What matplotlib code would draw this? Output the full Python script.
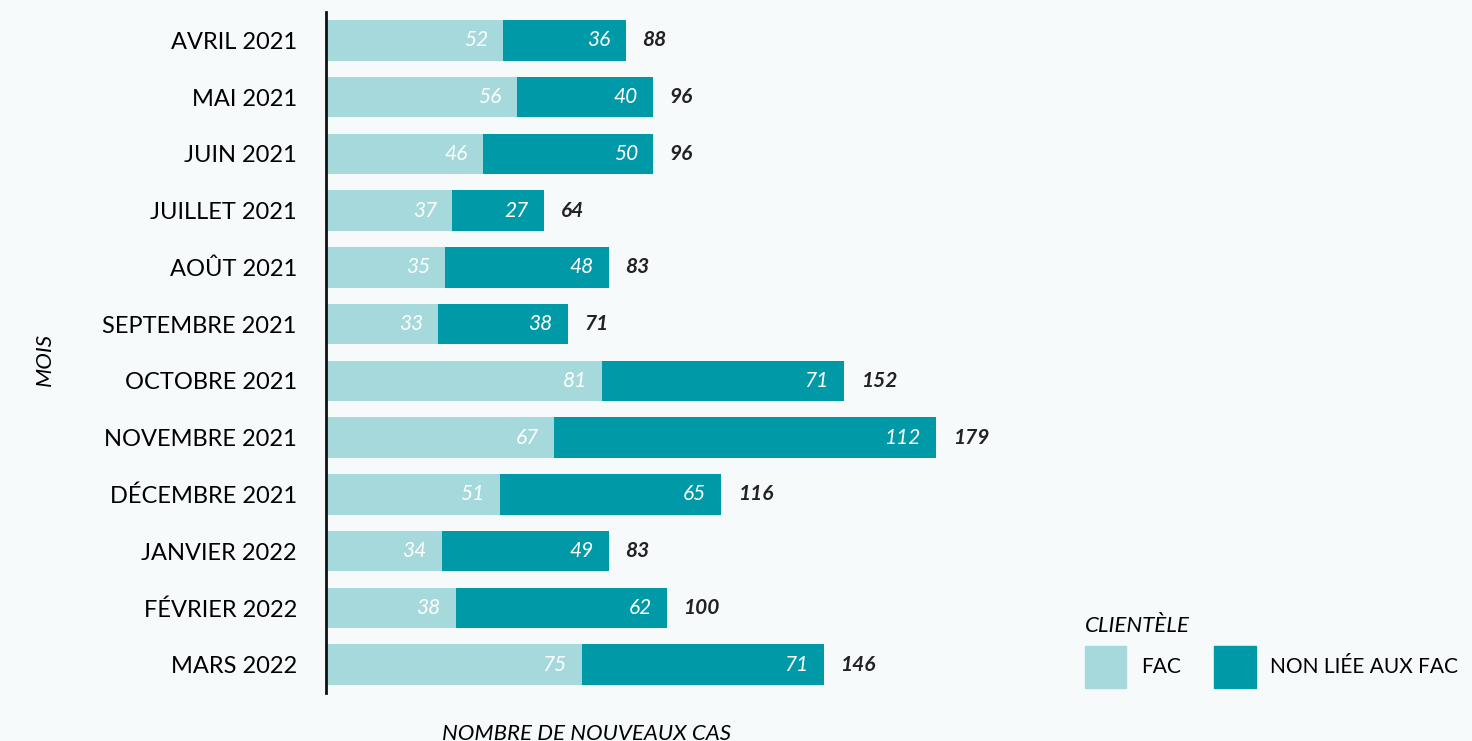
import numpy as np
import matplotlib
matplotlib.use("Agg")
import matplotlib.pyplot as plt
from matplotlib.patches import Patch

plt.rcParams["font.family"] = ["Lato", "DejaVu Sans"]

mois = ["AVRIL 2021", "MAI 2021", "JUIN 2021", "JUILLET 2021", "AOÛT 2021",
        "SEPTEMBRE 2021", "OCTOBRE 2021", "NOVEMBRE 2021", "DÉCEMBRE 2021",
        "JANVIER 2022", "FÉVRIER 2022", "MARS 2022"]
fac = [52, 56, 46, 37, 35, 33, 81, 67, 51, 34, 38, 75]
non_fac = [36, 40, 50, 27, 48, 38, 71, 112, 65, 49, 62, 71]

BG = "#f6fafb"
C_FAC = "#a6d9db"
C_NON = "#0099a7"

fac = np.array(fac)
non_fac = np.array(non_fac)
total = fac + non_fac
y = np.arange(len(mois))

fig = plt.figure(figsize=(14.72, 7.41), dpi=100, facecolor=BG)
ax = fig.add_axes([326 / 1472, 1 - 693 / 741, 1146 / 1472, 681 / 741])
ax.set_facecolor(BG)

ax.barh(y, fac, height=0.71, color=C_FAC)
ax.barh(y, non_fac, left=fac, height=0.71, color=C_NON)

for i in range(len(mois)):
    ax.annotate(f"{fac[i]}", (fac[i], y[i]), xytext=(-11, 0), textcoords="offset points",
                ha="right", va="center", color="white", fontsize=15, style="italic")
    ax.annotate(f"{non_fac[i]}", (total[i], y[i]), xytext=(-11, 0), textcoords="offset points",
                ha="right", va="center", color="white", fontsize=15, style="italic")
    ax.annotate(f"{total[i]}", (total[i], y[i]), xytext=(12, 0), textcoords="offset points",
                ha="left", va="center", color="#222222", fontsize=15, style="italic",
                fontweight="bold")

ax.set_xlim(0, 1146 / 3.408)
ax.set_ylim(len(mois) - 0.5, -0.5)
ax.set_yticks(y)
ax.set_yticklabels(mois, fontsize=17)
ax.tick_params(axis="y", length=0, pad=21)
ax.set_xticks([])
for s in ["top", "right", "bottom"]:
    ax.spines[s].set_visible(False)
ax.spines["left"].set_linewidth(2)
ax.spines["left"].set_color("#111111")

ax.set_xlabel("NOMBRE DE NOUVEAUX CAS", fontsize=16, style="italic")
ax.xaxis.set_label_coords((587 - 326) / 1146, -0.045)
ax.set_ylabel("MOIS", fontsize=16, style="italic")
ax.yaxis.set_label_coords(-(326 - 55) / 1146, 0.49)

handles = [Patch(color=C_FAC, label="FAC"), Patch(color=C_NON, label="NON LIÉE AUX FAC")]
leg = fig.legend(handles=handles, loc="upper left", bbox_to_anchor=(1066 / 1472, 1 - 597 / 741),
                 ncol=2, frameon=False, fontsize=15, title="CLIENTÈLE",
                 title_fontproperties={"size": 16, "style": "italic"},
                 handlelength=2.0, handleheight=2.7, handletextpad=0.7, columnspacing=1.6,
                 alignment="left")

fig.savefig("out.png", dpi=100, facecolor=BG)
